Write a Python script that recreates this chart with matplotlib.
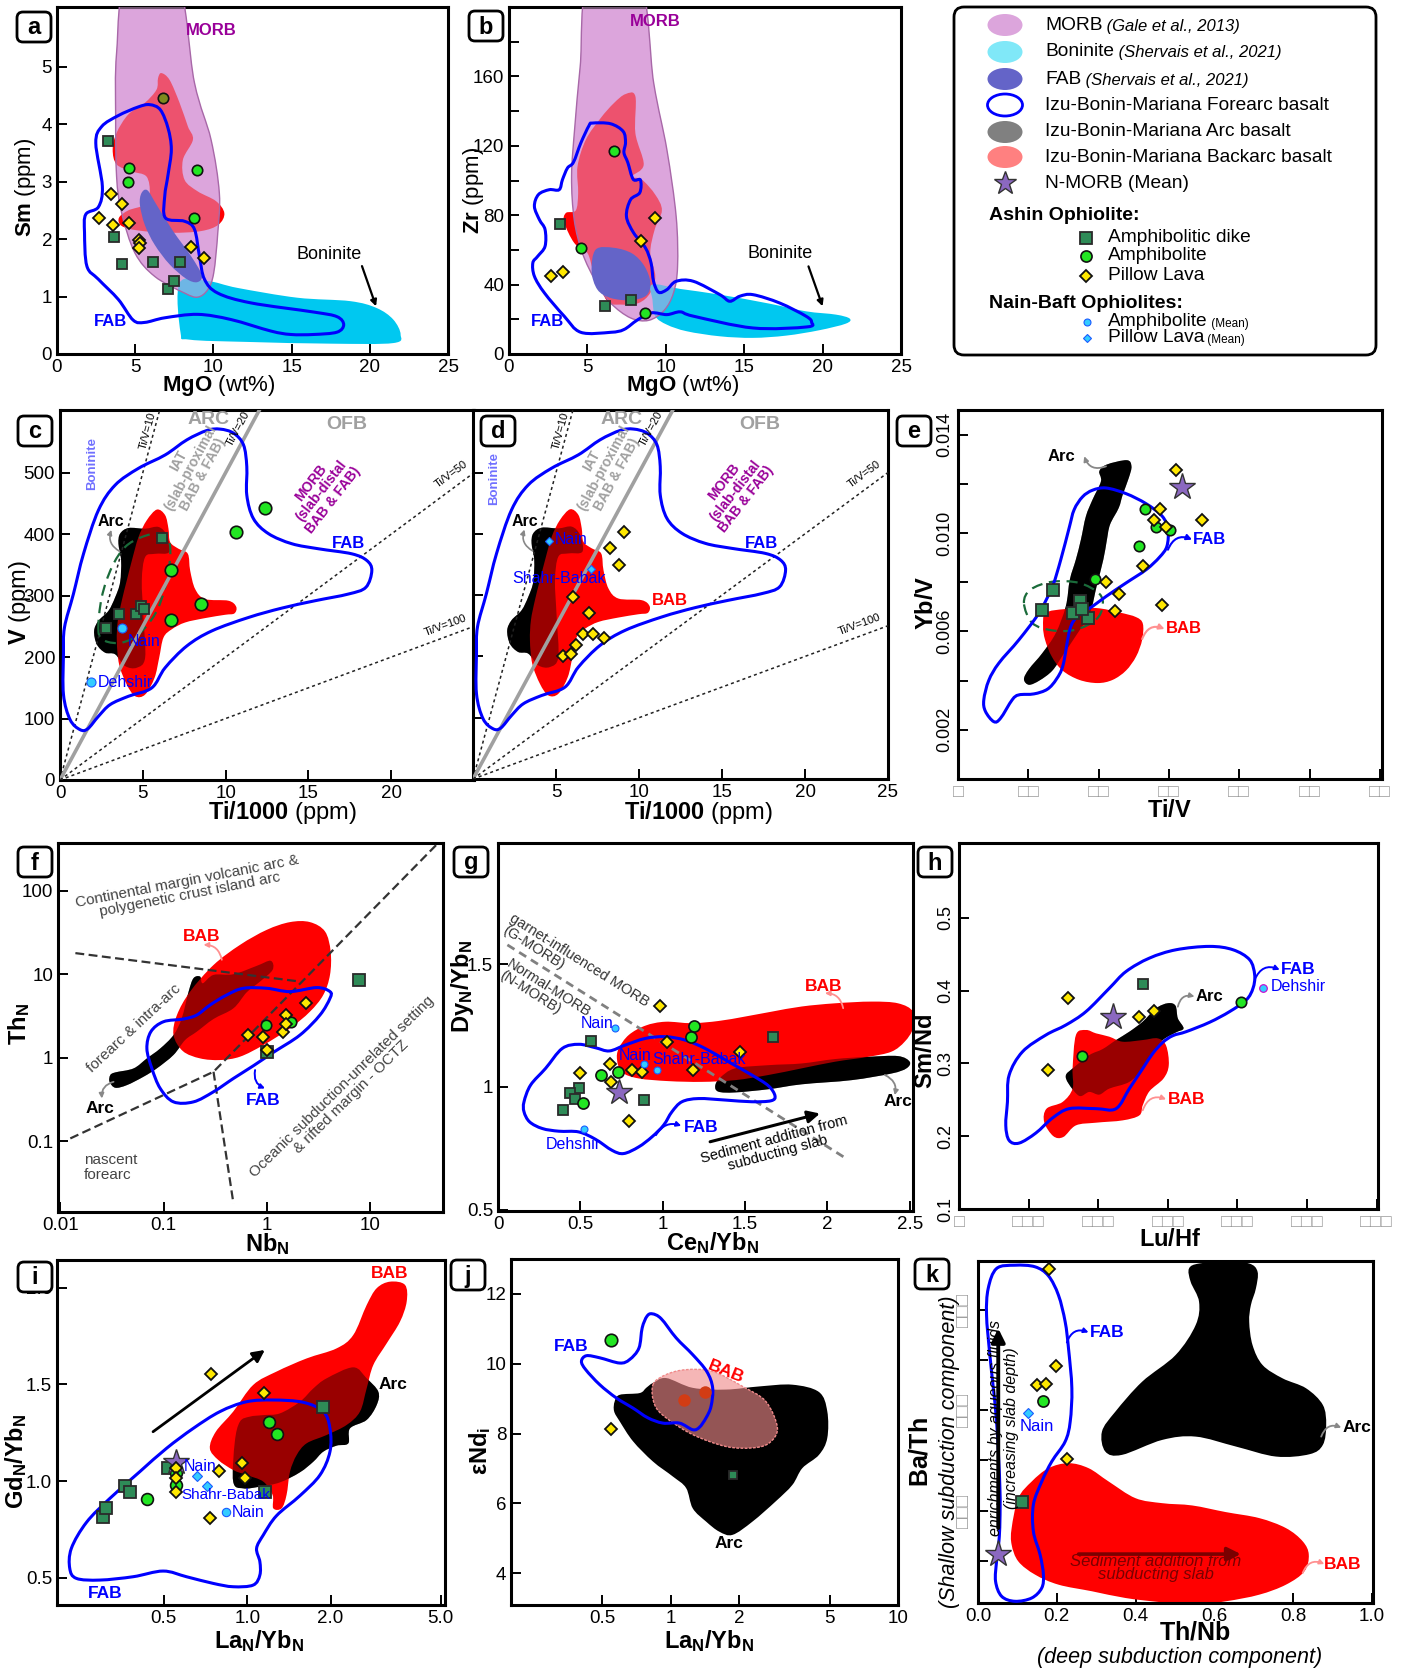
import numpy as np
import matplotlib
matplotlib.use("Agg")
import matplotlib.pyplot as plt
import matplotlib.ticker as mticker
from matplotlib.path import Path
from matplotlib.patches import PathPatch, Ellipse, FancyBboxPatch

plt.rcParams["font.family"] = ["Liberation Sans", "DejaVu Sans"]
plt.rcParams["mathtext.fontset"] = "custom"
plt.rcParams["mathtext.rm"] = "Liberation Sans"
plt.rcParams["mathtext.bf"] = "Liberation Sans:bold"
plt.rcParams["mathtext.it"] = "Liberation Sans:italic"
plt.rcParams["axes.unicode_minus"] = False

# ======================= DATA =======================
# ---- panel a : MgO vs Sm ----
a_dike_mgo = [3.28, 3.62, 4.15, 6.12, 7.84, 7.10, 7.48]
a_dike_sm = [3.70, 2.04, 1.57, 1.60, 1.60, 1.13, 1.27]
a_amph_mgo = [4.58, 4.51, 8.92, 8.79]
a_amph_sm = [3.24, 3.00, 3.21, 2.37]
a_amph_hidden_mgo = [6.78]
a_amph_hidden_sm = [4.45]
a_pil_mgo = [3.43, 4.17, 2.71, 3.56, 4.62, 5.23, 5.30, 5.25, 8.58, 9.39]
a_pil_sm = [2.78, 2.61, 2.37, 2.25, 2.28, 1.99, 1.93, 1.85, 1.87, 1.67]
a_morb = [(4.5, 6.6), (3.81, 5.24), (3.75, 4.14), (3.81, 3.09), (4.13, 2.46), (4.98, 1.76), (6.25, 1.35),
          (8.16, 1.06), (9.0, 0.99), (9.64, 1.12), (10.02, 1.41), (10.28, 2.11), (10.38, 2.80), (9.85, 3.73),
          (8.79, 4.72), (7.6, 6.6)]
a_bab = [(6.67, 4.89), (7.20, 4.77), (7.84, 4.37), (8.37, 3.96), (8.69, 3.73), (8.05, 3.38), (8.16, 3.03),
         (9.0, 2.83), (10.17, 2.66), (10.70, 2.45), (10.32, 2.25), (9.22, 2.14), (7.31, 2.11), (5.19, 2.15),
         (4.13, 2.23), (3.96, 2.37), (4.56, 2.50), (5.61, 2.60), (5.93, 2.80), (5.72, 3.09), (4.77, 3.18),
         (3.81, 3.30), (3.56, 3.56), (3.81, 3.85), (4.56, 4.17), (5.61, 4.37), (6.36, 4.60), (6.46, 4.80)]
a_boninite = [(7.84, 1.24), (7.90, 0.37), (8.47, 0.25), (12.18, 0.21), (17.48, 0.18), (21.5, 0.19),
              (21.97, 0.34), (21.5, 0.60), (20.44, 0.80), (18.75, 0.92), (15.36, 0.98), (11.55, 1.15), (9.64, 1.27)]
a_fab = [(5.40, 2.80), (5.78, 2.85), (6.36, 2.60), (7.42, 2.14), (8.58, 1.70), (9.26, 1.37), (8.96, 1.25),
         (8.26, 1.31), (7.20, 1.56), (6.25, 1.90), (5.61, 2.25), (5.30, 2.60)]
a_forearc = [(5.93, 4.34), (6.61, 4.25), (7.10, 3.93), (7.31, 3.56), (7.10, 3.12), (6.89, 2.75), (6.93, 2.37),
             (8.16, 2.31), (8.79, 2.17), (9.11, 1.70), (9.43, 1.30), (10.28, 1.06), (12.39, 0.89), (16.42, 0.73),
             (17.9, 0.65), (18.33, 0.51), (17.9, 0.38), (16.42, 0.34), (14.94, 0.34), (13.67, 0.40), (11.12, 0.60),
             (9.0, 0.69), (6.89, 0.63), (5.61, 0.55), (4.87, 0.59), (3.92, 0.95), (2.65, 1.30), (1.91, 1.53),
             (1.76, 2.11), (1.84, 2.43), (2.65, 2.56), (2.90, 2.92), (2.48, 3.67), (2.86, 3.96), (3.92, 4.15),
             (5.19, 4.30)]

# ---- panel b : MgO vs Zr ----
b_dike_mgo = [3.27, 6.12, 7.77]
b_dike_zr = [74.9, 27.9, 31.4]
b_amph_mgo = [6.71, 4.62, 8.68]
b_amph_zr = [117.1, 60.9, 23.5]
b_pil_mgo = [9.29, 8.42, 2.70, 3.42]
b_pil_zr = [78.4, 65.1, 45.1, 47.4]
b_morb = [(5.1, 215), (4.54, 165.7), (4.20, 131.2), (3.99, 102.4), (4.16, 77.4), (4.68, 58.2), (5.53, 41.9),
          (6.48, 29.4), (7.75, 20.8), (8.91, 19.4), (9.90, 25.2), (10.49, 35.2), (10.75, 50.5), (10.66, 79.3),
          (10.07, 117.7), (9.23, 156.1), (8.3, 215)]
b_bab = [(7.43, 149.8), (8.06, 148.5), (8.06, 127.3), (8.59, 109.1), (7.85, 102.4), (8.48, 100.5), (9.33, 91.8),
         (9.75, 82.8), (9.29, 71.7), (9.01, 58.2), (9.33, 44.8), (9.01, 35.2), (8.27, 29.4), (7.11, 28.5),
         (6.27, 30.4), (5.42, 46.7), (5.0, 58.2), (4.16, 64.0), (3.52, 75.9), (3.63, 81.3), (4.26, 82.8),
         (4.41, 92.8), (4.37, 108.1), (4.90, 123.5), (5.85, 136.0), (6.69, 144.6)]
b_fab = [(5.53, 60.2), (6.69, 61.2), (7.86, 57.9), (8.64, 50.6), (9.02, 41.0), (8.76, 33.7), (7.75, 31.0),
         (6.48, 32.3), (5.64, 37.1), (5.27, 47.7)]
b_boninite = [(9.12, 40.0), (10.92, 37.5), (13.45, 34.2), (16.62, 29.0), (18.94, 24.6), (20.85, 22.7),
              (21.73, 20.4), (21.48, 17.5), (19.79, 13.7), (17.68, 10.6), (15.56, 9.3), (13.45, 10.2),
              (11.34, 13.1), (10.07, 16.9), (9.33, 21.8), (9.15, 31.4)]
b_forearc = [(5.32, 133.1), (6.48, 132.7), (7.28, 128.3), (7.43, 121.9), (7.33, 116.1), (7.58, 110.3),
             (7.92, 100.7), (8.38, 100.3), (8.34, 93.0), (7.75, 88.9), (7.49, 79.3), (7.95, 69.8), (8.70, 61.2),
             (9.06, 52.5), (9.22, 41.9), (9.54, 35.6), (10.07, 37.1), (10.66, 41.9), (11.76, 41.9), (13.45, 34.2),
             (14.08, 30.4), (14.72, 33.3), (15.56, 34.2), (17.26, 29.4), (18.94, 21.8), (19.3, 18.3),
             (18.99, 15.6), (15.56, 15.0), (11.76, 21.8), (10.92, 24.3), (10.07, 22.7), (9.06, 23.7),
             (8.17, 19.5), (7.33, 14.1), (6.48, 12.5), (4.58, 12.5), (3.52, 21.8), (2.26, 35.2), (1.62, 44.8),
             (1.52, 52.5), (1.83, 56.3), (2.30, 62.1), (2.30, 71.7), (1.94, 77.4), (1.62, 85.1), (1.88, 91.9),
             (2.57, 94.7), (3.20, 94.7), (3.41, 100.5), (3.73, 107.2), (4.11, 110.5), (4.58, 121.6), (5.10, 131.6)]

# ---- panels c, d : Ti/1000 vs V ----
tiv_ratios = [10, 20, 50, 100]
c_dike_ti = [6.14, 3.57, 4.60, 4.90, 5.08, 2.78]
c_dike_v = [394.2, 269.9, 269.9, 283.5, 278.1, 248.1]
c_amph_ti = [12.35, 10.62, 6.73, 8.54, 6.69]
c_amph_v = [443.3, 402.9, 342.4, 286.3, 260.6]
c_nb_amph_ti = [3.73, 1.86]
c_nb_amph_v = [248.1, 159.2]
d_pil_ti = [9.09, 8.24, 8.79, 6.05, 6.97, 6.62, 7.21, 7.88, 6.20, 5.45, 5.89]
d_pil_v = [403.5, 377.3, 348.4, 297.2, 271.5, 237.2, 237.2, 230.1, 218.1, 200.1, 204.5]
d_nb_pil_ti = [4.57, 7.11]
d_nb_pil_v = [388.2, 341.9]
cd_arc = [(3.63, 400.8), (4.14, 410.0), (5.14, 408.9), (5.95, 411.7), (6.45, 398.0), (6.59, 370.8), (5.74, 368.0),
          (5.14, 362.6), (4.94, 324.4), (5.04, 264.5), (5.14, 199.0), (4.64, 182.7), (3.93, 185.4), (3.33, 204.5),
          (2.72, 207.2), (2.22, 220.8), (2.06, 242.6), (2.32, 259.0), (2.93, 275.4), (3.33, 297.2), (3.63, 321.7),
          (3.69, 357.1), (3.53, 384.4)]
cd_bab = [(5.85, 440.0), (6.35, 430.8), (6.55, 408.9), (6.65, 387.1), (7.16, 376.2), (7.72, 368.0), (7.86, 340.8),
          (8.16, 310.8), (8.76, 294.4), (10.17, 291.7), (10.64, 281.9), (10.53, 271.0), (9.97, 268.8),
          (8.76, 263.4), (7.56, 256.3), (6.76, 245.4), (6.25, 231.7), (5.99, 199.0), (5.71, 166.3), (5.14, 139.0),
          (4.54, 136.3), (4.03, 155.4), (3.57, 188.1), (3.43, 226.3), (3.49, 259.0), (3.73, 291.7), (4.03, 324.4),
          (4.34, 357.1), (4.74, 395.3), (5.24, 422.6)]
cd_forearc = [(0.21, 204.5), (0.27, 248.1), (0.81, 302.6), (1.42, 368.0), (2.32, 438.9), (3.33, 479.8),
              (4.74, 507.1), (6.35, 528.9), (7.66, 553.4), (8.87, 568.7), (9.67, 570.9), (10.48, 564.3),
              (11.08, 545.3), (11.28, 509.8), (11.28, 463.5), (11.68, 425.3), (12.59, 400.8), (14.0, 384.4),
              (15.61, 376.2), (17.62, 368.0), (18.53, 357.1), (18.83, 340.8), (18.47, 313.5), (17.42, 302.6),
              (15.41, 291.7), (13.40, 279.7), (11.39, 264.5), (9.17, 242.6), (7.66, 218.1), (6.35, 182.7),
              (5.54, 149.9), (4.14, 136.3), (3.03, 122.7), (2.32, 103.6), (1.68, 83.4), (1.22, 81.8),
              (0.61, 98.1), (0.21, 139.0)]
c_dike_field = [(2.32, 242.6), (2.52, 297.2), (3.13, 346.2), (3.93, 379.0), (4.94, 395.3), (5.95, 400.8),
                (6.55, 389.9), (6.65, 362.6), (6.35, 313.5), (5.74, 269.9), (4.74, 237.2), (3.73, 223.6),
                (2.72, 226.3)]

# ---- panel e : Ti/V vs Yb/V ----
e_pil_tiv = [30.95, 28.76, 27.86, 29.62, 34.76, 26.29, 21.05, 22.95, 22.33, 28.95]
e_pil_ybv = [0.01258, 0.01098, 0.01054, 0.01023, 0.01054, 0.00867, 0.00802, 0.00753, 0.00684, 0.00708]
e_amph_tiv = [26.62, 28.19, 30.19, 25.71, 19.48]
e_amph_ybv = [0.01098, 0.01023, 0.01014, 0.00948, 0.00813]
e_dike_tiv = [13.48, 11.90, 17.38, 16.38, 18.43, 17.62]
e_dike_ybv = [0.00768, 0.00685, 0.00725, 0.00675, 0.00654, 0.00691]
e_nmorb_tiv = [31.86]
e_nmorb_ybv = [0.01187]
e_arc = [(20.10, 0.01251), (21.14, 0.01278), (24.0, 0.01296), (24.67, 0.01271), (24.29, 0.01224),
         (23.43, 0.01156), (22.86, 0.01102), (21.62, 0.01034), (21.14, 0.00966), (20.67, 0.00892),
         (19.71, 0.00783), (18.76, 0.00675), (16.86, 0.00586), (14.95, 0.00505), (13.43, 0.00441),
         (11.62, 0.00401), (10.10, 0.00383), (9.38, 0.00406), (10.10, 0.00447), (12.0, 0.00512),
         (13.90, 0.00593), (15.33, 0.00702), (15.90, 0.00810), (16.76, 0.00892), (17.48, 0.00973),
         (18.19, 0.01068), (19.14, 0.01136), (20.33, 0.01210)]
e_bab = [(12.48, 0.00675), (15.33, 0.00691), (19.62, 0.00695), (22.95, 0.00677), (25.33, 0.00658),
         (26.29, 0.00631), (26.19, 0.00566), (25.33, 0.00498), (23.90, 0.00441), (22.0, 0.00403),
         (19.86, 0.00390), (17.24, 0.00403), (14.86, 0.00441), (13.33, 0.00498), (12.38, 0.00566),
         (12.10, 0.00620)]
e_forearc = [(3.67, 0.00322), (3.90, 0.00275), (5.10, 0.00233), (6.05, 0.00247), (7.71, 0.00322),
             (8.67, 0.00342), (10.81, 0.00346), (12.71, 0.00365), (14.0, 0.00406), (14.95, 0.00464),
             (15.90, 0.00607), (17.0, 0.00661), (19.14, 0.00702), (21.05, 0.00742), (23.90, 0.00797),
             (26.76, 0.00851), (28.67, 0.00902), (29.71, 0.00946), (29.86, 0.01014), (29.05, 0.01068),
             (26.76, 0.01119), (23.90, 0.01160), (21.05, 0.01183), (19.14, 0.01174), (17.71, 0.01147),
             (16.52, 0.01095), (15.81, 0.01021), (14.62, 0.00892), (13.43, 0.00783), (11.52, 0.00675),
             (8.67, 0.00566), (5.81, 0.00471), (4.38, 0.00401)]
e_dike_field = [(9.38, 0.00715), (10.33, 0.00770), (13.43, 0.00802), (17.24, 0.00797), (20.10, 0.00753),
                (20.57, 0.00702), (19.62, 0.00648), (16.76, 0.00607), (13.43, 0.00604), (10.57, 0.00634)]

# ---- panel f : NbN vs ThN (log-log) ----
f_pil_nb = [0.665, 0.915, 1.0, 1.43, 1.54, 1.54, 2.40]
f_pil_th = [1.87, 1.75, 1.24, 2.05, 3.25, 2.51, 4.49]
f_amph_nb = [0.978, 1.71]
f_amph_th = [2.47, 2.65]
f_dike_nb = [7.83, 1.0]
f_dike_th = [8.47, 1.16]
f_bab = [(0.125, 1.87), (0.135, 3.25), (0.181, 6.19), (0.305, 12.9), (0.552, 22.5), (1.0, 34.0), (1.68, 42.1),
         (2.62, 42.1), (3.67, 32.5), (4.16, 18.7), (4.10, 9.82), (3.53, 5.65), (2.62, 3.56), (1.68, 2.25),
         (0.929, 1.42), (0.552, 1.03), (0.353, 0.938), (0.226, 0.982), (0.154, 1.20)]
f_arc = [(0.0305, 0.619), (0.0341, 0.667), (0.0513, 0.745), (0.0690, 0.982), (0.0929, 1.29), (0.125, 1.87),
         (0.150, 2.96), (0.175, 6.19), (0.195, 8.95), (0.226, 9.38), (0.240, 7.80), (0.305, 9.82), (0.476, 10.0),
         (0.800, 12.6), (1.09, 14.5), (1.14, 11.3), (0.861, 8.17), (0.640, 6.08), (0.476, 3.91), (0.305, 2.91),
         (0.210, 2.05), (0.162, 1.63), (0.125, 1.08), (0.0861, 0.745), (0.0640, 0.592), (0.0442, 0.470),
         (0.0341, 0.437), (0.0300, 0.515)]
f_forearc = [(0.069, 1.29), (0.0754, 2.05), (0.1, 2.70), (0.156, 2.91), (0.210, 3.25), (0.283, 4.29),
             (0.410, 5.65), (0.594, 6.79), (1.0, 6.79), (1.68, 6.19), (3.05, 6.92), (4.10, 6.19), (4.10, 5.15),
             (3.28, 3.25), (2.10, 1.87), (1.16, 1.16), (0.743, 0.802), (0.476, 0.565), (0.305, 0.391),
             (0.195, 0.296), (0.125, 0.296), (0.0929, 0.429), (0.0771, 0.745)]
f_line_main = [(0.0125, 0.108), (0.305, 0.679), (45.8, 373)]
f_line_upper = [(0.0140, 17.9), (2.10, 8.17)]
f_line_lower = [(0.305, 0.679), (0.476, 0.0179)]

# ---- panel g : CeN/YbN vs DyN/YbN ----
g_pil_ce = [0.981, 1.026, 1.470, 1.183, 0.814, 0.874, 0.681, 0.495, 0.689, 0.794]
g_pil_dy = [1.331, 1.181, 1.143, 1.068, 1.068, 1.061, 1.094, 1.056, 1.020, 0.860]
g_amph_ce = [1.191, 1.169, 0.626, 0.727, 0.515]
g_amph_dy = [1.249, 1.204, 1.048, 1.059, 0.932]
g_dike_ce = [0.567, 0.491, 0.440, 0.466, 0.394, 0.889, 1.672]
g_dike_dy = [1.186, 0.996, 0.973, 0.952, 0.907, 0.948, 1.203]
g_nmorb_ce = [0.733]
g_nmorb_dy = [0.980]
g_nb_amph_ce = [0.713, 0.884, 0.965, 0.521]
g_nb_amph_dy = [1.238, 1.091, 1.068, 0.830]
g_bab = [(0.733, 1.156), (0.794, 1.211), (0.895, 1.249), (1.016, 1.265), (1.177, 1.259), (1.339, 1.268),
         (1.500, 1.286), (1.662, 1.306), (1.844, 1.327), (2.046, 1.340), (2.268, 1.347), (2.429, 1.340),
         (2.520, 1.306), (2.520, 1.238), (2.470, 1.184), (2.389, 1.143), (2.248, 1.122), (2.046, 1.102),
         (1.844, 1.075), (1.642, 1.048), (1.440, 1.027), (1.238, 1.020), (1.036, 1.023), (0.854, 1.034),
         (0.753, 1.059), (0.723, 1.109)]
g_arc = [(1.319, 1.004), (1.349, 1.037), (1.440, 1.075), (1.642, 1.088), (1.844, 1.095), (2.046, 1.113),
         (2.248, 1.122), (2.429, 1.125), (2.50, 1.102), (2.480, 1.075), (2.389, 1.054), (2.147, 1.027),
         (1.844, 1.010), (1.642, 0.990), (1.440, 0.977), (1.339, 0.980)]
g_forearc = [(0.158, 0.939), (0.198, 1.007), (0.289, 1.075), (0.390, 1.156), (0.491, 1.173), (0.592, 1.159),
             (0.676, 1.146), (0.773, 1.170), (0.895, 1.197), (1.016, 1.204), (1.137, 1.190), (1.258, 1.156),
             (1.399, 1.102), (1.541, 1.048), (1.642, 1.004), (1.682, 0.963), (1.658, 0.943), (1.541, 0.939),
             (1.379, 0.946), (1.218, 0.952), (1.117, 0.939), (1.056, 0.898), (1.006, 0.844), (0.935, 0.796),
             (0.854, 0.755), (0.763, 0.728), (0.693, 0.741), (0.592, 0.786), (0.491, 0.816), (0.370, 0.819),
             (0.269, 0.830), (0.192, 0.857), (0.158, 0.898)]
g_morb_line = [(0.057, 1.578), (2.116, 0.707)]

# ---- panel h : Lu/Hf vs Sm/Nd ----
h_pil_luhf = [0.0783, 0.1291, 0.1404, 0.0638]
h_pil_smnd = [0.3897, 0.3639, 0.3722, 0.2917]
h_dike_luhf = [0.1320]
h_dike_smnd = [0.4099]
h_amph_luhf = [0.0881, 0.2024]
h_amph_smnd = [0.3097, 0.3851]
h_nmorb_luhf = [0.1109]
h_nmorb_smnd = [0.3639]
h_nb_amph_luhf = [0.2184]
h_nb_amph_smnd = [0.4034]
h_bab = [(0.0840, 0.3391), (0.0912, 0.3460), (0.0984, 0.3414), (0.1080, 0.3368), (0.1176, 0.3299),
         (0.1320, 0.3322), (0.1428, 0.3345), (0.1488, 0.3244), (0.1507, 0.2977), (0.1469, 0.2793),
         (0.1368, 0.2618), (0.1320, 0.2425), (0.1296, 0.2287), (0.1176, 0.2218), (0.0984, 0.2186),
         (0.0840, 0.2149), (0.0749, 0.1989), (0.0677, 0.2002), (0.0612, 0.2195), (0.0629, 0.2379),
         (0.0744, 0.2471), (0.0816, 0.2655), (0.0816, 0.2931)]
h_arc = [(0.0768, 0.2839), (0.0816, 0.2931), (0.0936, 0.3115), (0.1032, 0.3198), (0.1128, 0.3322),
         (0.1224, 0.3437), (0.1320, 0.3575), (0.1416, 0.3759), (0.1500, 0.3828), (0.1555, 0.3795),
         (0.1572, 0.3621), (0.1613, 0.3483), (0.1560, 0.3428), (0.1464, 0.3322), (0.1404, 0.3161),
         (0.1320, 0.2931), (0.1224, 0.2747), (0.1080, 0.2655), (0.1008, 0.2572), (0.0936, 0.2609),
         (0.0864, 0.2554), (0.0787, 0.2724)]
h_forearc = [(0.0348, 0.2471), (0.0360, 0.2839), (0.0456, 0.3161), (0.0624, 0.3391), (0.0768, 0.3529),
             (0.0912, 0.3713), (0.1080, 0.4034), (0.1200, 0.4264), (0.1368, 0.4448), (0.1560, 0.4563),
             (0.1800, 0.4609), (0.1968, 0.4563), (0.2088, 0.4425), (0.2124, 0.4218), (0.2112, 0.4034),
             (0.2064, 0.3874), (0.1944, 0.3713), (0.1800, 0.3566), (0.1632, 0.3437), (0.1536, 0.3382),
             (0.1464, 0.3290), (0.1392, 0.3138), (0.1320, 0.2931), (0.1224, 0.2655), (0.1128, 0.2379),
             (0.0984, 0.2379), (0.0792, 0.2379), (0.0672, 0.2251), (0.0552, 0.2044), (0.0432, 0.1906),
             (0.0360, 0.1943), (0.0336, 0.2149)]

# ---- panel i : LaN/YbN vs GdN/YbN ----
i_dike_la = [0.3017, 0.310, 0.3624, 0.3787, 0.518, 1.158, 1.872]
i_dike_gd = [0.8155, 0.8586, 0.974, 0.941, 1.0655, 0.945, 1.384]
i_amph_la = [0.4363, 1.201, 1.283, 0.5554, 0.5554]
i_amph_gd = [0.907, 1.303, 1.241, 1.040, 0.979]
i_pil_la = [0.739, 1.149, 0.790, 0.954, 0.981, 0.552, 0.552, 0.552, 0.733]
i_pil_gd = [1.553, 1.457, 1.053, 1.091, 1.017, 1.066, 1.017, 0.941, 0.807]
i_nmorb_la = [0.5554]
i_nmorb_gd = [1.100]
i_nb_pil_la = [0.656, 0.713]
i_nb_pil_gd = [1.028, 0.976]
i_nb_amph_la = [0.837]
i_nb_amph_gd = [0.838]
i_trend = [(0.457, 1.255), (1.158, 1.678)]
i_bab = [(0.733, 1.169), (0.770, 1.255), (0.890, 1.359), (1.051, 1.497), (1.276, 1.566), (1.639, 1.634),
         (2.103, 1.686), (2.415, 1.755), (2.70, 1.910), (2.935, 1.997), (3.28, 2.031), (3.715, 2.014),
         (3.767, 1.928), (3.563, 1.824), (3.19, 1.712), (2.854, 1.600), (2.70, 1.479), (2.554, 1.359),
         (2.286, 1.290), (1.935, 1.238), (1.639, 1.195), (1.508, 1.134), (1.427, 1.048), (1.387, 0.928),
         (1.331, 0.859), (1.242, 0.859), (1.235, 0.928), (1.143, 0.997), (0.994, 1.031), (0.890, 1.057),
         (0.786, 1.109)]
i_arc = [(0.890, 0.997), (0.902, 1.203), (0.941, 1.307), (1.022, 1.333), (1.143, 1.341), (1.313, 1.350),
         (1.550, 1.410), (1.733, 1.479), (1.935, 1.531), (2.415, 1.588), (2.70, 1.531), (2.975, 1.462),
         (2.935, 1.393), (2.70, 1.316), (2.35, 1.272), (2.318, 1.195), (2.103, 1.183), (1.883, 1.152),
         (1.733, 1.100), (1.550, 1.045), (1.313, 0.993), (1.111, 0.971), (0.967, 0.962)]
i_forearc = [(0.2286, 0.5483), (0.2416, 0.4966), (0.2935, 0.4879), (0.3873, 0.5052), (0.4969, 0.5345),
             (0.6035, 0.5052), (0.7535, 0.4707), (0.890, 0.4534), (1.051, 0.4621), (1.111, 0.5138),
             (1.111, 0.5828), (1.081, 0.6517), (1.143, 0.7207), (1.276, 0.8207), (1.550, 0.9241),
             (1.831, 1.031), (1.990, 1.152), (1.990, 1.272), (1.883, 1.359), (1.594, 1.407), (1.242, 1.419),
             (0.994, 1.410), (0.797, 1.359), (0.638, 1.272), (0.511, 1.169), (0.409, 1.048), (0.319, 0.910),
             (0.2626, 0.786), (0.2317, 0.652)]

# ---- panel j : LaN/YbN vs eNd ----
j_amph_la = [0.550]
j_amph_end = [10.67]
j_pil_la = [0.546]
j_pil_end = [8.13]
j_dike_la = [1.888]
j_dike_end = [6.82]
j_bab_dots_la = [1.152, 1.419]
j_bab_dots_end = [8.97, 9.19]
j_arc = [(0.5683, 8.92), (0.598, 9.11), (0.7316, 9.16), (0.782, 9.31), (0.837, 9.45), (0.957, 9.59),
         (1.252, 9.31), (1.753, 9.26), (2.454, 9.35), (3.434, 9.40), (4.494, 9.19), (4.887, 8.64), (4.887, 7.87),
         (4.494, 7.39), (3.798, 7.01), (3.434, 6.53), (2.902, 6.06), (2.294, 5.48), (1.875, 5.10), (1.639, 5.19),
         (1.433, 5.48), (1.252, 5.86), (1.171, 6.44), (1.024, 6.77), (0.837, 7.20), (0.684, 7.78), (0.598, 8.35),
         (0.565, 8.64)]
j_bab = [(0.837, 9.40), (0.957, 9.69), (1.171, 9.83), (1.532, 9.78), (2.074, 9.35), (2.624, 8.92), (2.951, 8.16),
         (2.715, 7.73), (2.294, 7.59), (1.753, 7.63), (1.252, 7.97), (0.957, 8.45), (0.851, 8.83)]
j_forearc = [(0.406, 10.07), (0.4272, 10.23), (0.4887, 10.17), (0.598, 10.02), (0.661, 10.12), (0.7266, 10.45),
             (0.751, 11.03), (0.788, 11.36), (0.831, 11.43), (0.910, 11.29), (1.059, 10.74), (1.252, 10.26),
             (1.443, 9.78), (1.532, 9.31), (1.507, 8.78), (1.433, 8.45), (1.34, 8.18), (1.252, 8.11),
             (1.095, 8.30), (0.926, 8.30), (0.796, 8.45), (0.684, 8.73), (0.578, 9.02), (0.4887, 9.40),
             (0.424, 9.83)]

# ---- panel k : Th/Nb vs Ba/Th ----
k_pil_thnb = [0.1805, 0.1975, 0.1507, 0.172, 0.2255]
k_pil_bath = [340.8, 244.2, 225.3, 226.6, 151.6]
k_amph_thnb = [0.1643]
k_amph_bath = [209.7]
k_dike_thnb = [0.1108]
k_dike_bath = [108.4]
k_nmorb_thnb = [0.0497]
k_nmorb_bath = [57.0]
k_nb_pil_thnb = [0.1261]
k_nb_pil_bath = [197.1]
k_arc = [(0.5355, 341.5), (0.561, 346.5), (0.6289, 348.1), (0.6883, 346.5), (0.7096, 338.2), (0.7053, 321.6),
         (0.6926, 305.0), (0.6883, 288.4), (0.6968, 265.1), (0.7223, 245.2), (0.7732, 231.9), (0.8327, 222.0),
         (0.8752, 205.4), (0.8837, 185.5), (0.8752, 165.5), (0.8412, 156.2), (0.7563, 153.9), (0.6544, 163.9),
         (0.5524, 173.8), (0.4675, 170.5), (0.3656, 155.6), (0.3231, 158.9), (0.3146, 178.8), (0.3486, 198.7),
         (0.4166, 228.6), (0.5015, 255.2), (0.5524, 285.1), (0.561, 308.3), (0.5397, 328.2)]
k_bab = [(0.0854, 82.5), (0.1023, 112.4), (0.1363, 129.0), (0.1788, 142.3), (0.2297, 147.3), (0.2807, 142.3),
         (0.3316, 129.0), (0.3996, 112.4), (0.4675, 107.4), (0.5439, 105.1), (0.6289, 98.5), (0.7138, 92.5),
         (0.7817, 82.5), (0.8242, 69.3), (0.8395, 56.0), (0.8284, 39.4), (0.7817, 26.1), (0.7138, 16.1),
         (0.6289, 9.5), (0.5439, 6.0), (0.459, 8.8), (0.3741, 12.8), (0.2892, 19.5), (0.2042, 26.1),
         (0.1448, 36.1), (0.1023, 49.3), (0.0854, 65.9)]
k_forearc = [(0.0471, 341.5), (0.0938, 344.8), (0.1448, 343.2), (0.1788, 334.2), (0.2042, 314.9), (0.2212, 288.4),
             (0.2297, 261.8), (0.2382, 222.0), (0.234, 188.8), (0.2212, 168.9), (0.1873, 149.0), (0.1618, 129.0),
             (0.1406, 106.0), (0.1406, 79.2), (0.1576, 56.0), (0.1660, 36.1), (0.1618, 22.8), (0.1363, 12.8),
             (0.0938, 9.5), (0.0599, 14.5), (0.0446, 29.4), (0.0471, 49.3), (0.0531, 69.3), (0.0556, 89.2),
             (0.0556, 122.4), (0.0471, 188.8), (0.0301, 255.2), (0.0217, 295.0), (0.0259, 321.6)]
k_fluid_arrow = [(0.0514, 82.5), (0.0514, 281.7)]
k_sed_arrow = [(0.2552, 56.6), (0.667, 56.6)]

# legend entries
legend_fields = ["MORB", "Boninite", "FAB", "Izu-Bonin-Mariana Forearc basalt",
                 "Izu-Bonin-Mariana Arc basalt", "Izu-Bonin-Mariana Backarc basalt"]
legend_refs = ["(Gale et al., 2013)", "(Shervais et al., 2021)", "(Shervais et al., 2021)", "", "", ""]

# ======================= STYLE =======================
MORB_C = "#dca5dc"
BON_C = "#00c8f0"
FABS_C = "#6464c8"
BLUE = "#0000ff"
RED = "#ff0000"
PURP = "#990099"
GRAYT = "#a0a0a0"
DIKE = dict(marker="s", mfc="#2e8b57", mec="#2a2a2a", mew=1.3)
AMPH = dict(marker="o", mfc="#22e622", mec="#111111", mew=1.2)
PIL = dict(marker="D", mfc="#ffe800", mec="#111111", mew=1.3)
STAR = dict(marker="*", mfc="#8b68c0", mec="#333333", mew=1.0)
NBA = dict(marker="o", mfc="#33ccff", mec="#1a5cff", mew=0.8)
NBP = dict(marker="D", mfc="#33ccff", mec="#1a5cff", mew=0.8)
TOFU = "\u25a1"

W, H = 1407, 1672
fig = plt.figure(figsize=(W / 100, H / 100), dpi=100)


def add_ax(x0, y0, x1, y1):
    return fig.add_axes([x0 / W, 1 - y1 / H, (x1 - x0) / W, (y1 - y0) / H])


def setup(ax, xlim, ylim, xt, xl, yt, yl, xlog=False, ylog=False, yrot=False, xcol="black", ycol="black", fs=13.5):
    if xlog:
        ax.set_xscale("log")
    if ylog:
        ax.set_yscale("log")
    ax.set_xlim(*xlim)
    ax.set_ylim(*ylim)
    ax.set_xticks(xt)
    ax.set_xticklabels(xl)
    ax.set_yticks(yt)
    ax.set_yticklabels(yl)
    ax.xaxis.set_minor_locator(mticker.NullLocator())
    ax.yaxis.set_minor_locator(mticker.NullLocator())
    for s in ax.spines.values():
        s.set_linewidth(2.2)
    ax.tick_params(direction="in", length=7, width=1.4, labelsize=fs, pad=3.5)
    ax.tick_params(axis="x", labelcolor=xcol)
    ax.tick_params(axis="y", labelcolor=ycol)
    if yrot:
        for t in ax.get_yticklabels():
            t.set_rotation(90)
            t.set_va("center")


def smooth(ax, pts):
    P = np.asarray(pts, float).copy()
    lx = ax.get_xscale() == "log"
    ly = ax.get_yscale() == "log"
    if lx:
        P[:, 0] = np.log10(P[:, 0])
    if ly:
        P[:, 1] = np.log10(P[:, 1])
    n = len(P)
    verts = [P[0]]
    codes = [Path.MOVETO]
    for i in range(n):
        p0, p1, p2, p3 = P[i - 1], P[i], P[(i + 1) % n], P[(i + 2) % n]
        verts += [p1 + (p2 - p0) / 6.0, p2 - (p3 - p1) / 6.0, p2]
        codes += [Path.CURVE4] * 3
    verts.append(P[0])
    codes.append(Path.CLOSEPOLY)
    V = np.array(verts)
    if lx:
        V[:, 0] = 10 ** V[:, 0]
    if ly:
        V[:, 1] = 10 ** V[:, 1]
    return Path(V, codes)


def field(ax, pts, z, fc="none", ec="none", lw=0.0, alpha=1.0, ls="-"):
    p = PathPatch(smooth(ax, pts), facecolor=fc, edgecolor=ec, linewidth=lw, alpha=alpha, zorder=z, linestyle=ls)
    ax.add_patch(p)
    return p


def arc_bab(ax, arc, bab):
    field(ax, arc, 1, fc="black")
    field(ax, bab, 2, fc=RED)
    field(ax, arc, 3, fc="black", alpha=0.4)


def outline(ax, pts):
    field(ax, pts, 4, ec=BLUE, lw=2.2)


def pts(ax, x, y, st, ms, z=6):
    ax.plot(x, y, ls="none", ms=ms, zorder=z, **st)


def lab(ax, x, y, s, color="black", fs=12, weight="bold", **kw):
    kw.setdefault("ha", "center")
    kw.setdefault("va", "center")
    ax.text(x, y, s, color=color, fontsize=fs, fontweight=weight, zorder=8, **kw)


def arr(ax, tail, head, color, lw=1.4, rad=0.35, ms=9, style="-|>"):
    ax.annotate("", xy=head, xytext=tail, zorder=8,
                arrowprops=dict(arrowstyle=style, color=color, lw=lw, mutation_scale=ms,
                                connectionstyle="arc3,rad=%g" % rad, shrinkA=0, shrinkB=0))


def line_angle(ax, p1, p2):
    a = ax.transData.transform(p1)
    b = ax.transData.transform(p2)
    return np.degrees(np.arctan2(b[1] - a[1], b[0] - a[0]))


# ======================= PANEL a =======================
ax = add_ax(57, 7, 448, 354)
setup(ax, (0, 25), (0, 6.04), [0, 5, 10, 15, 20, 25], ["0", "5", "10", "15", "20", "25"],
      [0, 1, 2, 3, 4, 5], ["0", "1", "2", "3", "4", "5"])
field(ax, a_morb, 1, fc=MORB_C)
field(ax, a_bab, 2, fc=RED)
field(ax, a_boninite, 2.5, fc=BON_C)
field(ax, a_morb, 3, fc=MORB_C, alpha=0.5)
field(ax, a_morb, 3.1, ec="#a868a8", lw=1.0)
field(ax, a_fab, 3.5, fc=FABS_C)
outline(ax, a_forearc)
pts(ax, a_amph_hidden_mgo, a_amph_hidden_sm, dict(AMPH, mfc="#7d8a1e"), 7.5)
pts(ax, a_dike_mgo, a_dike_sm, DIKE, 7.5)
pts(ax, a_amph_mgo, a_amph_sm, AMPH, 7.5)
pts(ax, a_pil_mgo, a_pil_sm, PIL, 6.2)
lab(ax, 9.85, 5.63, "MORB", PURP, 12)
lab(ax, 17.37, 1.74, "Boninite", "black", 13, "normal")
arr(ax, (19.5, 1.53), (20.4, 0.83), "black", lw=1.6, rad=0.0)
lab(ax, 3.39, 0.57, "FAB", BLUE, 12)

# ======================= PANEL b =======================
ax = add_ax(509, 7, 901, 354)
setup(ax, (0, 25), (0, 200), [0, 5, 10, 15, 20, 25], ["0", "5", "10", "15", "20", "25"],
      [0, 20, 40, 60, 80, 100, 120, 140, 160, 180], ["0", "", "40", "", "80", "", "120", "", "160", ""])
field(ax, b_morb, 1, fc=MORB_C)
field(ax, b_bab, 2, fc=RED)
field(ax, b_boninite, 2.5, fc=BON_C)
field(ax, b_morb, 3, fc=MORB_C, alpha=0.5)
field(ax, b_morb, 3.1, ec="#a868a8", lw=1.0)
field(ax, b_fab, 3.5, fc=FABS_C)
outline(ax, b_forearc)
pts(ax, b_dike_mgo, b_dike_zr, DIKE, 7.5)
pts(ax, b_amph_mgo, b_amph_zr, AMPH, 7.5)
pts(ax, b_pil_mgo, b_pil_zr, PIL, 6.2)
lab(ax, 9.33, 191.7, "MORB", PURP, 12)
lab(ax, 17.26, 57.7, "Boninite", "black", 13, "normal")
arr(ax, (19.1, 50.5), (20.0, 27.5), "black", lw=1.6, rad=0.0)
lab(ax, 2.46, 18.9, "FAB", BLUE, 12)


# ======================= PANELS c, d =======================
def tiv_panel(ax, boninite_pos):
    xs = np.array([0.0, 25.0])
    for r in tiv_ratios:
        if r == 20:
            ax.plot(xs, xs * 1000 / r, color="#a0a0a0", lw=2.6, zorder=3.8)
        else:
            ax.plot(xs, xs * 1000 / r, color="#222222", lw=1.1, ls=(0, (2, 2)), zorder=3.8)
    for r, (tx, ty) in zip(tiv_ratios, [(5.3, 568), (10.75, 572), (23.6, 497), (23.3, 252)]):
        ang = line_angle(ax, (0, 0), (10, 10000 / r))
        lab(ax, tx, ty, "Ti/V=%d" % r, "black", 8, "normal", rotation=ang)
    lab(ax, 8.97, 586, "ARC", GRAYT, 14)
    lab(ax, 17.3, 578, "OFB", GRAYT, 14)
    lab(ax, boninite_pos[0], boninite_pos[1], "Boninite", "#7070ff", 9.5, rotation=90)
    ang20 = line_angle(ax, (0, 0), (10, 500))
    lab(ax, 7.9, 508, "IAT\n(slab-proximal\nBAB & FAB)", GRAYT, 10, rotation=ang20, linespacing=1.0)
    lab(ax, 15.8, 470, "MORB\n(slab-distal\nBAB & FAB)", PURP, 10, rotation=52, linespacing=1.0)
    lab(ax, 17.4, 385, "FAB", BLUE, 12)
    lab(ax, 3.1, 420, "Arc", "black", 11.5)
    arr(ax, (3.6, 372), (3.1, 407), "#888888", lw=1.2, rad=-0.4, ms=7)


ax = add_ax(60, 410, 474, 780)
setup(ax, (0, 25), (0, 602), [0, 5, 10, 15, 20], ["0", "5", "10", "15", "20"],
      [0, 100, 200, 300, 400, 500], ["0", "100", "200", "300", "400", "500"])
arc_bab(ax, cd_arc, cd_bab)
field(ax, c_dike_field, 3.5, ec="#1a6b3a", lw=1.6, ls=(0, (5, 3)))
outline(ax, cd_forearc)
tiv_panel(ax, (1.92, 515))
pts(ax, c_dike_ti, c_dike_v, DIKE, 7)
pts(ax, c_amph_ti, c_amph_v, AMPH, 9)
pts(ax, c_nb_amph_ti, c_nb_amph_v, NBA, 6.5)
lab(ax, 5.1, 225, "Nain", BLUE, 11.5, "normal")
lab(ax, 2.25, 159, "Dehshir", BLUE, 11.5, "normal", ha="left")

ax = add_ax(473, 410, 888, 779)
setup(ax, (0, 25), (0, 602), [5, 10, 15, 20, 25], ["5", "10", "15", "20", "25"],
      [0, 100, 200, 300, 400, 500], [""] * 6)
arc_bab(ax, cd_arc, cd_bab)
outline(ax, cd_forearc)
tiv_panel(ax, (1.3, 491))
lab(ax, 11.83, 290.6, "BAB", RED, 12)
pts(ax, d_pil_ti, d_pil_v, PIL, 6.6)
pts(ax, d_nb_pil_ti, d_nb_pil_v, NBP, 4.5)
lab(ax, 4.95, 390, "Nain", BLUE, 11.5, "normal", ha="left")
lab(ax, 5.2, 327, "Shahr-Babak", BLUE, 11.5, "normal")

# ======================= PANEL e =======================
ax = add_ax(958, 410, 1382, 779)
setup(ax, (0, 60.3), (0, 0.015), [0, 10, 20, 30, 40, 50, 60], [TOFU] + [TOFU * 2] * 6,
      [0.002, 0.004, 0.006, 0.008, 0.010, 0.012, 0.014], ["0.002", "", "0.006", "", "0.010", "", "0.014"],
      yrot=True, xcol="#9a9a9a", fs=13)
arc_bab(ax, e_arc, e_bab)
field(ax, e_dike_field, 3.5, ec="#1a6b3a", lw=1.6, ls=(0, (5, 3)))
outline(ax, e_forearc)
pts(ax, e_dike_tiv, e_dike_ybv, DIKE, 8)
pts(ax, e_amph_tiv, e_amph_ybv, AMPH, 7.5)
pts(ax, e_pil_tiv, e_pil_ybv, PIL, 6.3)
pts(ax, e_nmorb_tiv, e_nmorb_ybv, STAR, 20)
lab(ax, 14.76, 0.01312, "Arc", "black", 12)
arr(ax, (21.05, 0.01271), (17.95, 0.01312), "#888888", lw=1.3, rad=-0.5, ms=7)
lab(ax, 33.4, 0.00973, "FAB", BLUE, 12, ha="left")
arr(ax, (29.86, 0.00932), (33.3, 0.00973), BLUE, lw=1.5, rad=-0.5, ms=8)
lab(ax, 29.6, 0.0061, "BAB", RED, 12, ha="left")
arr(ax, (26.19, 0.00569), (29.38, 0.00610), "#ff9090", lw=1.5, rad=-0.5, ms=8)

# ======================= PANEL f =======================
ax = add_ax(58, 843, 443, 1212)
setup(ax, (0.0095, 51), (0.0142, 373), [0.01, 0.1, 1, 10], ["0.01", "0.1", "1", "10"],
      [0.1, 1, 10, 100], ["0.1", "1", "10", "100"], xlog=True, ylog=True)
arc_bab(ax, f_arc, f_bab)
outline(ax, f_forearc)
for ln in (f_line_main, f_line_upper, f_line_lower):
    xx, yy = zip(*ln)
    ax.plot(xx, yy, color="#333333", lw=1.6, ls=(0, (4, 2)), zorder=3.6)
pts(ax, f_dike_nb, f_dike_th, DIKE, 8)
pts(ax, f_amph_nb, f_amph_th, AMPH, 7.5)
pts(ax, f_pil_nb, f_pil_th, PIL, 6.6)
lab(ax, 0.175, 108, "Continental margin volcanic arc &\npolygenetic crust island arc", "#444444", 11, "normal",
    rotation=11, linespacing=1.0)
lab(ax, 0.235, 28.3, "BAB", RED, 12.5)
arr(ax, (0.367, 14.9), (0.244, 22.5), "#ff9090", lw=1.3, rad=0.4, ms=7)
lab(ax, 0.0513, 2.25, "forearc & intra-arc", "#444444", 11, "normal", rotation=43)
lab(ax, 0.0244, 0.247, "Arc", "black", 12.5)
arr(ax, (0.0328, 0.515), (0.0253, 0.325), "#888888", lw=1.3, rad=0.4, ms=7)
lab(ax, 0.915, 0.305, "FAB", BLUE, 12.5)
arr(ax, (0.771, 0.711), (0.963, 0.429), BLUE, lw=1.4, rad=0.4, ms=7)
lab(ax, 0.0168, 0.049, "nascent\nforearc", "#444444", 11, "normal", ha="left", linespacing=1.1)
lab(ax, 5.95, 0.391, "Oceanic subduction-unrelated setting\n& rifted margin - OCTZ", "#444444", 11, "normal",
    rotation=44.5, linespacing=1.0)

# ======================= PANEL g =======================
ax = add_ax(498, 843, 913, 1211)
setup(ax, (0, 2.52), (0.494, 1.993), [0, 0.5, 1, 1.5, 2, 2.5], ["0", "0.5", "1", "1.5", "2", "2.5"],
      [0.5, 1.0, 1.5], ["0.5", "1", "1.5"])
arc_bab(ax, g_arc, g_bab)
outline(ax, g_forearc)
xx, yy = zip(*g_morb_line)
ax.plot(xx, yy, color="#808080", lw=2.0, ls=(0, (3, 2)), zorder=3.6)
gang = line_angle(ax, g_morb_line[0], g_morb_line[1])
lab(ax, 0.103, 1.716, "garnet-influenced MORB\n(G-MORB)", "#333333", 10.5, "normal", rotation=gang,
    linespacing=1.0, ha="left", va="top", rotation_mode="anchor", multialignment="left")
lab(ax, 0.085, 1.530, "Normal-MORB\n(N-MORB)", "#333333", 10.5, "normal", rotation=gang, linespacing=1.0,
    ha="left", va="top", rotation_mode="anchor", multialignment="left")
ax.annotate("", xy=(1.955, 0.891), xytext=(1.288, 0.776), zorder=8,
            arrowprops=dict(arrowstyle="-|>", color="black", lw=2.2, mutation_scale=18, shrinkA=0, shrinkB=0))
lab(ax, 1.69, 0.757, "Sediment addition from\nsubducting slab", "black", 10.5, "normal", rotation=15,
    linespacing=0.95)
pts(ax, g_dike_ce, g_dike_dy, DIKE, 7.5)
pts(ax, g_amph_ce, g_amph_dy, AMPH, 8)
pts(ax, g_pil_ce, g_pil_dy, PIL, 6.2)
pts(ax, g_nmorb_ce, g_nmorb_dy, STAR, 19)
pts(ax, g_nb_amph_ce, g_nb_amph_dy, NBA, 5)
lab(ax, 0.60, 1.259, "Nain", BLUE, 11.5, "normal")
lab(ax, 0.834, 1.129, "Nain", BLUE, 11.5, "normal")
lab(ax, 1.22, 1.113, "Shahr-Babak", BLUE, 11.5, "normal")
lab(ax, 0.46, 0.766, "Dehshir", BLUE, 11.5, "normal")
lab(ax, 1.975, 1.408, "BAB", RED, 12.5)
arr(ax, (2.096, 1.320), (1.985, 1.381), "#ff9090", lw=1.3, rad=0.4, ms=7)
lab(ax, 2.43, 0.939, "Arc", "black", 12.5)
arr(ax, (2.349, 1.048), (2.409, 0.966), "#888888", lw=1.3, rad=-0.4, ms=7)
lab(ax, 1.13, 0.833, "FAB", BLUE, 12.5, ha="left")
arr(ax, (0.959, 0.803), (1.113, 0.841), BLUE, lw=1.4, rad=-0.4, ms=7)

# ======================= PANEL h =======================
ax = add_ax(959, 843, 1378, 1209)
setup(ax, (0, 0.301), (0.1, 0.603), [0, 0.05, 0.10, 0.15, 0.20, 0.25, 0.30], [TOFU] + [TOFU * 3] * 6,
      [0.1, 0.2, 0.3, 0.4, 0.5], ["0.1", "0.2", "0.3", "0.4", "0.5"], yrot=True, xcol="#9a9a9a", fs=13)
arc_bab(ax, h_arc, h_bab)
outline(ax, h_forearc)
pts(ax, h_dike_luhf, h_dike_smnd, DIKE, 7.5)
pts(ax, h_amph_luhf, h_amph_smnd, AMPH, 7.5)
pts(ax, h_pil_luhf, h_pil_smnd, PIL, 6.2)
pts(ax, h_nmorb_luhf, h_nmorb_smnd, STAR, 20)
pts(ax, h_nb_amph_luhf, h_nb_amph_smnd, dict(NBA, mec="#cc00cc"), 5.5)
lab(ax, 0.2309, 0.4287, "FAB", BLUE, 12.5, ha="left")
arr(ax, (0.2124, 0.415), (0.2304, 0.4287), BLUE, lw=1.4, rad=-0.5, ms=7)
lab(ax, 0.2237, 0.4057, "Dehshir", BLUE, 11.5, "normal", ha="left")
lab(ax, 0.1700, 0.392, "Arc", "black", 12, ha="left")
arr(ax, (0.1572, 0.378), (0.1692, 0.392), "#888888", lw=1.3, rad=-0.5, ms=7)
lab(ax, 0.1500, 0.2508, "BAB", RED, 12.5, ha="left")
arr(ax, (0.132, 0.2356), (0.1488, 0.2508), "#ff9090", lw=1.3, rad=-0.5, ms=7)

# ======================= PANEL i =======================
ax = add_ax(57, 1260, 445, 1605)
setup(ax, (0.2056, 5.18), (0.359, 2.143), [0.5, 1.0, 2.0, 5.0], ["0.5", "1.0", "2.0", "5.0"],
      [0.5, 1.0, 1.5, 2.0], ["0.5", "1.0", "1.5", "2.0"], xlog=True)
arc_bab(ax, i_arc, i_bab)
outline(ax, i_forearc)
ax.annotate("", xy=i_trend[1], xytext=i_trend[0], zorder=8,
            arrowprops=dict(arrowstyle="-|>", color="black", lw=2.0, mutation_scale=18, shrinkA=0, shrinkB=0))
pts(ax, i_dike_la, i_dike_gd, DIKE, 8)
pts(ax, i_amph_la, i_amph_gd, AMPH, 8.5)
pts(ax, i_nmorb_la, i_nmorb_gd, STAR, 19)
pts(ax, i_pil_la, i_pil_gd, PIL, 6.0)
pts(ax, i_nb_pil_la, i_nb_pil_gd, NBP, 4.8)
pts(ax, i_nb_amph_la, i_nb_amph_gd, NBA, 6)
lab(ax, 0.59, 1.074, "Nain", BLUE, 11.5, "normal", ha="left")
lab(ax, 0.837, 0.928, "Shahr-Babak", BLUE, 11, "normal")
lab(ax, 0.88, 0.838, "Nain", BLUE, 11.5, "normal", ha="left")
lab(ax, 3.28, 2.074, "BAB", RED, 12.5)
lab(ax, 3.35, 1.50, "Arc", "black", 12.5)
lab(ax, 0.306, 0.419, "FAB", BLUE, 12.5)

# ======================= PANEL j =======================
ax = add_ax(511, 1259, 898, 1605)
setup(ax, (0.199, 9.9), (3.09, 13.0), [0.5, 1, 2, 5, 10], ["0.5", "1", "2", "5", "10"],
      [4, 6, 8, 10, 12], ["4", "6", "8", "10", "12"], xlog=True)
field(ax, j_arc, 1, fc="black")
field(ax, j_bab, 2, fc="#f08a8a", alpha=0.62)
field(ax, j_bab, 2.1, ec="#f08a8a", lw=1.0, ls=(0, (2, 1)))
outline(ax, j_forearc)
pts(ax, j_bab_dots_la, j_bab_dots_end, dict(marker="o", mfc="#d23c14", mec="#d23c14", mew=0), 9, z=5)
pts(ax, j_amph_la, j_amph_end, AMPH, 9)
pts(ax, j_pil_la, j_pil_end, PIL, 6.2)
pts(ax, j_dike_la, j_dike_end, DIKE, 5.5)
lab(ax, 0.367, 10.5, "FAB", BLUE, 12.5)
lab(ax, 1.76, 9.76, "BAB", RED, 12.5, rotation=-22)
lab(ax, 1.8, 4.86, "Arc", "black", 12.5)

# ======================= PANEL k =======================
ax = add_ax(978, 1261, 1373, 1603)
setup(ax, (0, 1.0025), (7.8, 349), [0.0, 0.2, 0.4, 0.6, 0.8, 1.0], ["0.0", "0.2", "0.4", "0.6", "0.8", "1.0"],
      [50, 100, 150, 200, 250, 300], ["", TOFU * 3, "", TOFU * 3, "", TOFU * 3], yrot=True, ycol="#9a9a9a")
field(ax, k_arc, 1, fc="black")
field(ax, k_bab, 2, fc=RED)
outline(ax, k_forearc)
ax.annotate("", xy=k_fluid_arrow[1], xytext=k_fluid_arrow[0], zorder=7,
            arrowprops=dict(arrowstyle="-|>", color="black", lw=2.8, mutation_scale=20, shrinkA=0, shrinkB=0))
lab(ax, 0.065, 182, "enrichments by aqueous fluids\n(increasing slab depth)", "black", 11.5, "normal",
    rotation=90, style="italic", linespacing=1.05)
ax.annotate("", xy=k_sed_arrow[1], xytext=k_sed_arrow[0], zorder=7,
            arrowprops=dict(arrowstyle="-|>", color="#7a0000", lw=2.6, mutation_scale=20, shrinkA=0, shrinkB=0))
lab(ax, 0.4505, 42.7, "Sediment addition from\nsubducting slab", "#7a0000", 12, "normal", style="italic",
    linespacing=0.9)
pts(ax, k_dike_thnb, k_dike_bath, DIKE, 8)
pts(ax, k_amph_thnb, k_amph_bath, AMPH, 8)
pts(ax, k_pil_thnb, k_pil_bath, PIL, 6.4)
pts(ax, k_nmorb_thnb, k_nmorb_bath, STAR, 20)
pts(ax, k_nb_pil_thnb, k_nb_pil_bath, NBP, 4.8)
lab(ax, 0.149, 183.8, "Nain", BLUE, 12, "normal")
lab(ax, 0.283, 277.8, "FAB", BLUE, 12.5, ha="left")
arr(ax, (0.2255, 267.8), (0.2807, 277.8), BLUE, lw=1.4, rad=-0.5, ms=7)
lab(ax, 0.926, 182.8, "Arc", "black", 12.5, ha="left")
arr(ax, (0.871, 173.8), (0.922, 182.8), "#888888", lw=1.3, rad=-0.5, ms=7)
lab(ax, 0.879, 46.7, "BAB", RED, 12.5, ha="left")
arr(ax, (0.824, 37.7), (0.879, 46.7), "#ff9090", lw=1.3, rad=-0.5, ms=7)

# ======================= OVERLAY (labels, legend, panel letters) =======================
ov = fig.add_axes([0, 0, 1, 1], zorder=20)
ov.set_xlim(0, W)
ov.set_ylim(H, 0)
ov.axis("off")


def otext(x, y, s, fs=16, **kw):
    kw.setdefault("ha", "center")
    kw.setdefault("va", "center")
    return ov.text(x, y, s, fontsize=fs, **kw)


# axis titles
otext(219, 386, r"$\mathbf{MgO}$ (wt%)")
otext(25, 187, r"$\mathbf{Sm}$ (ppm)", rotation=90)
otext(683, 386, r"$\mathbf{MgO}$ (wt%)")
otext(474, 190, r"$\mathbf{Zr}$ (ppm)", rotation=90)
otext(283, 813, r"$\mathbf{Ti/1000}$ (ppm)", fs=17)
otext(699, 813, r"$\mathbf{Ti/1000}$ (ppm)", fs=17)
otext(20, 603, r"$\mathbf{V}$ (ppm)", rotation=90, fs=17)
otext(1170, 811, r"$\mathbf{Ti/V}$", fs=17)
otext(927, 603, r"$\mathbf{Yb/V}$", rotation=90, fs=17)
otext(267, 1244, r"$\mathbf{Nb_N}$", fs=17)
otext(19, 1024, r"$\mathbf{Th_N}$", rotation=90, fs=17)
otext(712, 1243, r"$\mathbf{Ce_N/Yb_N}$", fs=17)
otext(462, 987, r"$\mathbf{Dy_N/Yb_N}$", rotation=90, fs=17)
otext(1170, 1240, r"$\mathbf{Lu/Hf}$", fs=17)
otext(926, 1051, r"$\mathbf{Sm/Nd}$", rotation=90, fs=17)
otext(259, 1641, r"$\mathbf{La_N/Yb_N}$", fs=17)
otext(16, 1461, r"$\mathbf{Gd_N/Yb_N}$", rotation=90, fs=17)
otext(709, 1641, r"$\mathbf{La_N/Yb_N}$", fs=17)
otext(480, 1451, "$\\mathbf{\u03b5Nd_i}$", rotation=90, fs=17)
otext(1195, 1632, r"$\mathbf{Th/Nb}$", fs=18)
otext(1180, 1658, "(deep subduction component)", fs=15.5, style="italic")
otext(921, 1452, r"$\mathbf{Ba/Th}$", rotation=90, fs=18)
otext(949, 1452, "(Shallow subduction component)", rotation=90, fs=15.5, style="italic")

# panel letters
for letter, cx, cy in [("a", 34, 27), ("b", 486, 26), ("c", 35, 431), ("d", 498, 431), ("e", 914, 431),
                       ("f", 35, 862), ("g", 471, 862), ("h", 935, 862), ("i", 35, 1277), ("j", 468, 1275),
                       ("k", 932, 1274)]:
    ov.add_patch(FancyBboxPatch((cx - 17, cy - 15), 34, 30, boxstyle="round,pad=0,rounding_size=6",
                                fc="white", ec="black", lw=2.0, zorder=21))
    otext(cx, cy + 1, letter, fs=17, fontweight="bold", zorder=22)

# legend
ov.add_patch(FancyBboxPatch((954, 7), 422, 348, boxstyle="round,pad=0,rounding_size=10",
                            fc="white", ec="black", lw=2.0, zorder=21))
leg_fc = [MORB_C, "#80e8f8", FABS_C, "white", "#808080", "#ff8080"]
leg_ec = ["none", "none", "none", BLUE, "none", "none"]
leg_rows = [25, 52, 79, 105, 132, 157]
for name, ref, fc, ec, yy in zip(legend_fields, legend_refs, leg_fc, leg_ec, leg_rows):
    ov.add_patch(Ellipse((1005, yy), 35, 22, fc=fc, ec=ec, lw=2.0 if ec != "none" else 0, zorder=22))
    t = otext(1045, yy, name, fs=13.8, ha="left", zorder=22)
    if ref:
        ov.annotate(" " + ref, xy=(1, 0), xycoords=t, va="bottom", ha="left", fontsize=12,
                    style="italic", zorder=22)
ov.plot([1005], [183], ls="none", ms=17, zorder=22, **STAR)
otext(1045, 183, "N-MORB (Mean)", fs=13.8, ha="left", zorder=22)
otext(989, 215, "Ashin Ophiolite:", fs=14, ha="left", fontweight="bold", zorder=22)
ov.plot([1086], [238], ls="none", ms=8, zorder=22, **DIKE)
ov.plot([1086], [256], ls="none", ms=8, zorder=22, **AMPH)
ov.plot([1086], [276], ls="none", ms=6.4, zorder=22, **PIL)
otext(1108, 238, "Amphibolitic dike", fs=13.8, ha="left", zorder=22)
otext(1108, 256, "Amphibolite", fs=13.8, ha="left", zorder=22)
otext(1108, 276, "Pillow Lava", fs=13.8, ha="left", zorder=22)
otext(989, 304, "Nain-Baft Ophiolites:", fs=14, ha="left", fontweight="bold", zorder=22)
ov.plot([1087], [322], ls="none", ms=5, zorder=22, **NBA)
ov.plot([1087], [338], ls="none", ms=4.5, zorder=22, **NBP)
t1 = otext(1108, 322, "Amphibolite", fs=13.8, ha="left", zorder=22)
t2 = otext(1108, 338, "Pillow Lava", fs=13.8, ha="left", zorder=22)
for t in (t1, t2):
    ov.annotate(" (Mean)", xy=(1, 0), xycoords=t, va="bottom", ha="left", fontsize=8.5, zorder=22)

fig.savefig("out.png", dpi=100)
